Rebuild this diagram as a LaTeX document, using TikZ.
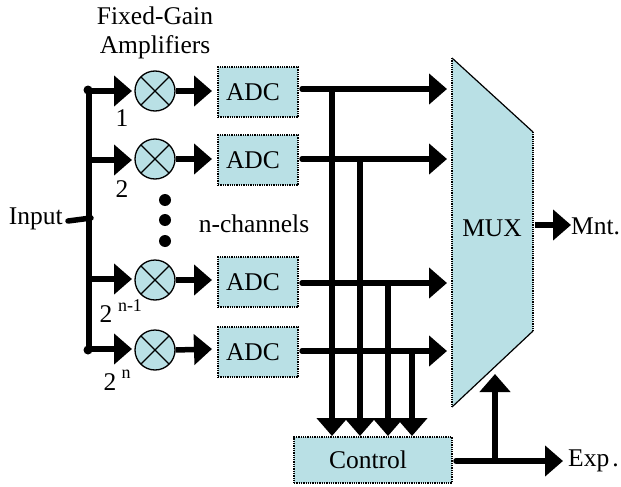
\documentclass[tikz,border=0pt]{standalone}
\usepackage{fontspec}
\setmainfont{Liberation Serif}
\usetikzlibrary{arrows.meta}
\definecolor{boxfill}{RGB}{185,224,229}
\tikzset{
  x=1pt,y=-1pt,
  dotbox/.style={draw=black,fill=boxfill,densely dotted,line width=1.3pt,inner sep=0pt,minimum width=80pt,minimum height=50pt,font=\fontsize{25.5}{25.5}\selectfont},
  mult/.style={circle,draw=black,fill=boxfill,line width=1.3pt,inner sep=0pt,minimum size=40pt,path picture={
    \draw[line width=1.1pt] ([shift={(-20pt,-20pt)}]path picture bounding box.center)--([shift={(20pt,20pt)}]path picture bounding box.center)
      ([shift={(-20pt,20pt)}]path picture bounding box.center)--([shift={(20pt,-20pt)}]path picture bounding box.center);}},
  wire/.style={line width=5.5pt,line cap=round},
  arr/.style={line width=5.5pt,-{Triangle[length=18pt,width=30pt]}},
  lbl/.style={font=\fontsize{25.5}{25.5}\selectfont,inner sep=0pt},
  sm/.style={font=\fontsize{18}{18}\selectfont,inner sep=0pt},
  vdot/.style={circle,fill=black,inner sep=0pt,minimum size=12pt},
  jdot/.style={circle,fill=black,inner sep=0pt,minimum size=9pt}
}
\begin{document}
\begin{tikzpicture}
\useasboundingbox (0,0) rectangle (621,487);
% mux
\fill[boxfill] (452,58) coordinate (mA) -- (533,132) coordinate (mB) -- (533,331) coordinate (mC) -- (452,407) coordinate (mD) -- cycle;
\draw[line width=1.2pt,densely dotted] (mD)--(mA) (mB)--(mC);
\draw[line width=1.2pt] (mA)--(mB) (mC)--(mD);
\node[lbl] (mux) at (492,228) {MUX};
% adcs
\node[dotbox] (a1) at (258,92) {ADC\kern10pt};
\node[dotbox] (a2) at (258,160) {ADC\kern10pt};
\node[dotbox] (a3) at (258,282) {ADC\kern10pt};
\node[dotbox] (a4) at (258,352) {ADC\kern10pt};
\node[mult] (m1) at (155,91) {};
\node[mult] (m2) at (155,159) {};
\node[mult] (m3) at (155,280) {};
\node[mult] (m4) at (155,350) {};
\node[dotbox,minimum width=158pt,minimum height=46pt] (ctl) at (373,460) {Control\kern10pt};
% input bus
\coordinate (b1) at (89,91); \coordinate (b2) at (89,160); \coordinate (b3) at (89,279); \coordinate (b4) at (89,349); \coordinate (bi) at (91,218);
\draw[wire] (b1)--(b4);
\node[jdot] (d1) at (88,90) {}; \node[jdot] (d4) at (88,350) {};
\node[lbl,anchor=east] (inp) at (63,219) {Input};
\coordinate (ie) at (68,221);
\draw[wire] (ie)--(bi);
\foreach \n/\b/\y in {1/b1/91,2/b2/160,3/b3/279,4/b4/349}{
  \coordinate (t\n) at (132,\y);
  \draw[arr] (\b)--(t\n);
}
\foreach \n/\y in {1/91,2/159,3/280,4/349}{
  \coordinate (u\n) at (212,\y);
  \draw[arr] (m\n.east)--(u\n);
}
% outputs
\foreach \n/\y in {1/89,2/159,3/283,4/351}{
  \coordinate (s\n) at (302,\y);
  \coordinate (o\n) at (447,\y);
  \draw[arr,line cap=round] (s\n)--(o\n);
}
% to control
\foreach \n/\x/\y in {1/332/89,2/360/159,3/388/283,4/412/351}{
  \coordinate (vs\n) at (\x,\y);
  \coordinate (ve\n) at (\x,436);
  \draw[arr] (vs\n)--(ve\n);
}
% control out
\coordinate (c0) at (456,461);
\coordinate (cj) at (495,461);
\coordinate (cx) at (563,461);
\coordinate (cu) at (495,374);
\draw[arr,line cap=round] (c0)--(cx);
\draw[arr] (cj)--(cu);
% mux out
\coordinate (mo) at (535,225); \coordinate (mt) at (571,225);
\draw[arr] (mo)--(mt);
\node[lbl,anchor=west] (mnt) at (571,226) {Mnt.};
\node[lbl,anchor=west] (exp) at (568,461) {Exp\hspace{3pt}.};
% texts
\node[lbl] (t1) at (155,16) {Fixed-Gain};
\node[lbl] (t2) at (155,47) {Amplifiers};
\node[lbl] (chn) at (254,224) {n-channels};
\node[vdot] (v1) at (165,200) {}; \node[vdot] (v2) at (165,220) {}; \node[vdot] (v3) at (165,241) {};
\node[lbl] (g1) at (122,118) {1};
\node[lbl] (g2) at (122,189) {2};
\node[lbl] (g3) at (106,314) {2};
\node[sm] (g3s) at (130,306) {n-1};
\node[lbl] (g4) at (110,382) {2};
\node[sm] (g4s) at (126,374) {n};
\end{tikzpicture}
\end{document}
